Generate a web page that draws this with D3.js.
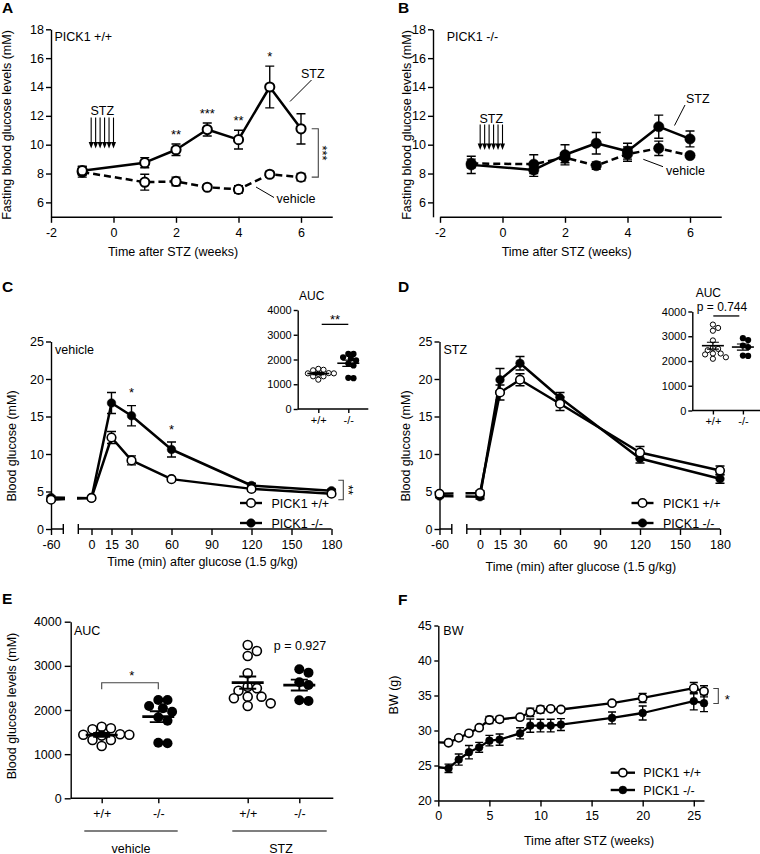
<!DOCTYPE html>
<html><head><meta charset="utf-8">
<script src="https://cdn.jsdelivr.net/npm/d3@7/dist/d3.min.js"></script>
<style>
body{margin:0;background:#fff;}
svg{display:block;}
</style></head><body>
<svg id="fig" width="760" height="854"></svg>
<script>
// ================= DATA =================
// A & B: fasting blood glucose (mM) vs weeks after STZ
const weeks = [-1, 1, 2, 3, 4, 5, 6];
const stzDays = [-5, -4, -3, -2, -1, 0];
const aStz = [8.2, 8.75, 9.65, 11.05, 10.35, 14.0, 11.1];
const aStzSem = [0.3, 0.35, 0.4, 0.45, 0.65, 1.45, 1.05];
const aVeh = [8.1, 7.4, 7.45, 7.05, 6.9, 7.95, 7.75];
const aVehSem = [0.35, 0.55, 0.3, 0.15, 0.25, 0.2, 0.25];
const aStars = ["", "", "**", "***", "**", "*", ""];
const bStz = [8.6, 8.25, 9.3, 10.1, 9.55, 11.25, 10.4];
const bStzSem = [0.6, 0.45, 0.7, 0.75, 0.55, 0.8, 0.55];
const bVeh = [8.7, 8.65, 9.1, 8.55, 9.35, 9.75, 9.25];
const bVehSem = [0.3, 0.65, 0.35, 0.25, 0.5, 0.5, 0.15];
const abYTicks = [6, 8, 10, 12, 14, 16, 18];
const abXTicks = [-2, 0, 2, 4, 6];

// C & D: glucose tolerance test (mM)
const ogttMin = [-60, 0, 15, 30, 60, 120, 180];
const cWT = [3.9, 4.15, 12.2, 9.15, 6.65, 5.35, 4.7];
const cWTSem = [0.2, 0.2, 0.8, 0.6, 0.25, 0.3, 0.25];
const cKO = [4.2, 4.1, 16.8, 15.1, 10.6, 5.8, 5.1];
const cKOSem = [0.2, 0.2, 1.4, 1.35, 1.0, 0.3, 0.2];
const cStars = ["", "", "", "*", "*", "", ""];
const dWT = [4.7, 4.8, 18.2, 19.9, 16.7, 10.2, 7.8];
const dWTSem = [0.2, 0.3, 1.0, 0.8, 0.9, 0.8, 0.6];
const dKO = [4.4, 4.3, 19.9, 22.1, 17.5, 9.4, 6.7];
const dKOSem = [0.2, 0.3, 1.5, 0.9, 0.7, 0.6, 0.6];
const cdXTicks = [-60, 0, 15, 30, 60, 90, 120, 150, 180];
const cdYTicks = [0, 5, 10, 15, 20, 25];

// E and insets: AUC per mouse
const aucVehWT = [1622, 1563, 1585, 1450, 1440, 1440, 1420, 1320, 1320, 1185];
const aucVehKO = [2090, 2227, 2227, 1835, 1962, 2038, 1758, 1246, 1259];
const aucStzWT = [3472, 3223, 3336, 2831, 2491, 2437, 2528, 2302, 2265, 2302, 2090, 2151];
const aucStzKO = [2846, 2921, 2566, 2627, 2204, 2219];
const aucTicks = [0, 1000, 2000, 3000, 4000];
const genotypes = ["+/+", "-/-"];
const treatments = ["vehicle", "STZ"];

// F: body weight (g)
const bwWeeks = [0, 1, 2, 3, 4, 5, 6, 8, 9, 10, 11, 12, 17, 20, 25, 26];
const bwWT = [28.3, 28.25, 28.95, 29.6, 30.4, 31.5, 31.6, 31.9, 32.6, 33.0, 33.1, 33.0, 33.9, 34.65, 36.05, 35.6];
const bwWTSem = [0, 0.15, 0.2, 0.25, 0.25, 0.5, 0.4, 0.3, 0.6, 0.5, 0.3, 0.3, 0.3, 0.65, 0.8, 0.8];
const bwKO = [24.75, 24.6, 25.85, 26.9, 27.6, 28.55, 28.7, 29.6, 30.7, 30.7, 30.7, 30.85, 31.8, 32.5, 34.2, 33.9];
const bwKOSem = [0, 0.6, 0.8, 0.95, 0.7, 0.75, 0.8, 0.8, 0.95, 0.9, 0.9, 0.85, 0.85, 1.0, 1.25, 1.2];
const fXTicks = [0, 5, 10, 15, 20, 25];
const fYTicks = [20, 25, 30, 35, 40, 45];

// ================= HELPERS =================
const svg = d3.select("#fig");
const FONT = '"Liberation Sans", Arial, Helvetica, sans-serif';
const FS = 12.5;
svg.attr("font-family", FONT);
const fmt = d => String(d);

function T(g, x, y, s, o = {}) {
  const t = g.append("text").attr("x", x).attr("y", y).text(s)
    .attr("font-size", o.fs || FS).attr("text-anchor", o.anchor || "start").attr("fill", "#000");
  if (o.bold) t.attr("font-weight", "bold");
  if (o.rot != null) t.attr("transform", `rotate(${o.rot},${x},${y})`);
  return t;
}
function P(g, d, w = 1, col = "#000") {
  return g.append("path").attr("d", d).attr("fill", "none").attr("stroke", col).attr("stroke-width", w);
}
function styleAxis(ax, fs) {
  ax.attr("font-family", FONT).attr("font-size", fs);
  ax.select(".domain").attr("stroke-width", 1.4);
  ax.selectAll(".tick line").attr("stroke-width", 1.4);
  return ax;
}
function drawSeries(g, x, y, ts, vals, sems, o) {
  const data = ts.map((t, i) => ({ t, v: vals[i], e: sems[i] }));
  const line = d3.line().x(d => x(d.t)).y(d => y(d.v));
  const lp = g.append("path").datum(data).attr("d", line).attr("fill", "none")
    .attr("stroke", "#000").attr("stroke-width", o.lw).attr("stroke-linejoin", "round");
  if (o.dash) lp.attr("stroke-dasharray", o.dash);
  if (o.clip) lp.attr("clip-path", `url(#${o.clip})`);
  const c = o.cap || 4.5;
  g.append("g").selectAll("path").data(data.filter(d => d.e > 0)).join("path")
    .attr("d", d => { const X = x(d.t), a = y(d.v + d.e), b = y(d.v - d.e);
      return `M${X},${a}V${b}M${X - c},${a}H${X + c}M${X - c},${b}H${X + c}`; })
    .attr("fill", "none").attr("stroke", "#000").attr("stroke-width", o.ew || 1.4);
  g.append("g").selectAll("circle").data(o.mf ? data.filter(o.mf) : data).join("circle")
    .attr("cx", d => x(d.t)).attr("cy", d => y(d.v)).attr("r", o.r)
    .attr("fill", o.filled ? "#000" : "#fff").attr("stroke", "#000")
    .attr("stroke-width", o.filled ? 0.5 : o.msw);
}
function legendItem(g, x0, x1, y, filled, label, tx, r) {
  P(g, `M${x0},${y}H${x1}`, 2.4);
  g.append("circle").attr("cx", (x0 + x1) / 2).attr("cy", y).attr("r", r)
    .attr("fill", filled ? "#000" : "#fff").attr("stroke", "#000").attr("stroke-width", filled ? 0.5 : 1.6);
  T(g, tx, y + 4.5, label);
}
function swarm(vals, y, cx, minD, step) {
  const order = vals.map((v, i) => i).sort((a, b) => vals[b] - vals[a]);
  const placed = [], out = new Array(vals.length);
  for (const i of order) {
    const py = y(vals[i]);
    for (let k = 0; k < 60; k++) {
      const off = (k === 0 ? 0 : (k % 2 ? 1 : -1) * Math.ceil(k / 2)) * step;
      const px = cx + off;
      if (placed.every(p => (p.x - px) ** 2 + (p.y - py) ** 2 >= minD * minD)) {
        placed.push({ x: px, y: py }); out[i] = { x: px, y: py, v: vals[i] }; break;
      }
    }
  }
  return out;
}
function meanSem(g, vals, y, cx, mw, cw, lw) {
  const m = d3.mean(vals), s = d3.deviation(vals) / Math.sqrt(vals.length);
  P(g, `M${cx - mw},${y(m)}H${cx + mw}`, lw);
  P(g, `M${cx},${y(m + s)}V${y(m - s)}M${cx - cw},${y(m + s)}H${cx + cw}M${cx - cw},${y(m - s)}H${cx + cw}`, lw * 0.75);
}

// ================= PANELS A & B =================
function panelAB(o) {
  const g = svg.append("g");
  const x = d3.scaleLinear().domain([-2, 7]).range([o.xs, o.xs + 281.25]);
  const y = d3.scaleLinear().domain([5, 18]).range([216.8, 29.3]);
  styleAxis(g.append("g").attr("transform", `translate(${o.ax},0)`)
    .call(d3.axisLeft(y).tickValues(abYTicks).tickFormat(fmt).tickSize(5).tickPadding(2).tickSizeOuter(0)), FS);
  styleAxis(g.append("g").attr("transform", `translate(0,${y(5)})`)
    .call(d3.axisBottom(x).tickValues(abXTicks).tickFormat(fmt).tickSize(6).tickPadding(5).tickSizeOuter(0)), FS);
  T(g, o.ylx, 125, "Fasting blood glucose levels (mM)", { anchor: "middle", rot: -90 });
  T(g, o.xlx, 256, "Time after STZ (weeks)", { anchor: "middle" });
  T(g, o.px, 13, o.letter, { bold: true, fs: 15.5 });
  T(g, o.gtx, 41, o.genotype);
  const xd = d => x(d / 7);
  T(g, xd(d3.mean(stzDays)), o.arrTxt, "STZ", { anchor: "middle" });
  g.append("g").selectAll("path").data(stzDays).join("path")
    .attr("d", d => `M${xd(d)},${y(o.arrTop)}V${y(o.arrTip) - 5}`)
    .attr("stroke", "#000").attr("stroke-width", 1.1);
  g.append("g").selectAll("path").data(stzDays).join("path")
    .attr("d", d => `M${xd(d) - 2.5},${y(o.arrTip) - 6.5}H${xd(d) + 2.5}L${xd(d)},${y(o.arrTip)}Z`)
    .attr("fill", "#000");
  drawSeries(g, x, y, weeks, o.veh, o.vehSem, { lw: 2.5, dash: "7,4", r: o.r, filled: o.filled, msw: 2, cap: 4.5 });
  drawSeries(g, x, y, weeks, o.stz, o.stzSem, { lw: 2.5, r: o.r, filled: o.filled, msw: 2, cap: 4.5 });
  T(g, o.stzLab[0], o.stzLab[1], "STZ");
  P(g, o.stzLead, 1);
  T(g, o.vehLab[0], o.vehLab[1], "vehicle");
  P(g, o.vehLead, 1);
  return { g, x, y };
}
const pA = panelAB({ letter: "A", px: 2, ax: 51, xs: 51, ylx: 11, xlx: 173, gtx: 54.5, genotype: "PICK1 +/+",
  arrTxt: 115, arrTop: 11.88, arrTip: 9.74, r: 4.6, filled: false,
  stz: aStz, stzSem: aStzSem, veh: aVeh, vehSem: aVehSem,
  stzLab: [301, 77.5], stzLead: "M311.5,80L290,101.5", vehLab: [276.5, 203], vehLead: "M256,187L274,197.5" });
pA.g.append("g").selectAll("text")
  .data(weeks.map((t, i) => ({ t, s: aStars[i], top: aStz[i] + aStzSem[i] })).filter(d => d.s))
  .join("text").attr("x", d => pA.x(d.t)).attr("y", d => pA.y(d.top) - 5)
  .attr("text-anchor", "middle").attr("font-size", 13).text(d => d.s);
P(pA.g, `M311.7,${pA.y(aStz[6])}H318.3V${pA.y(aVeh[6])}H311.7`, 1.1, "#444");
T(pA.g, 318, (pA.y(aStz[6]) + pA.y(aVeh[6])) / 2, "***", { anchor: "middle", rot: 90, fs: 13 });

panelAB({ letter: "B", px: 398, ax: 433, xs: 440, ylx: 411, xlx: 566.7, gtx: 446.7, genotype: "PICK1 -/-",
  arrTxt: 122.5, arrTop: 11.4, arrTip: 9.64, r: 5.2, filled: true,
  stz: bStz, stzSem: bStzSem, veh: bVeh, vehSem: bVehSem,
  stzLab: [686, 102.5], stzLead: "M685,105L674.5,125.5", vehLab: [666, 174.5], vehLead: "M643.3,159.3L663,166.7" });

// ================= PANELS C & D =================
function panelOGTT(o) {
  const g = svg.append("g");
  const a = o.ax;
  const x = d3.scaleLinear().domain([-60, 0, 180]).range([a, a + 40.5, a + 280.5]);
  const y = d3.scaleLinear().domain([0, 25]).range([529, 341.5]);
  styleAxis(g.append("g").attr("transform", `translate(${a},0)`)
    .call(d3.axisLeft(y).tickValues(cdYTicks).tickFormat(fmt).tickSize(5).tickPadding(2).tickSizeOuter(0)), FS);
  const xa = g.append("g").attr("transform", "translate(0,529)")
    .call(d3.axisBottom(x).tickValues(cdXTicks).tickFormat(fmt).tickSize(6).tickPadding(5).tickSizeOuter(0));
  styleAxis(xa, FS);
  xa.select(".domain").remove();
  const b0 = a + 12.3, b1 = a + 27.3;
  P(g, `M${a},529H${b0}M${b0},524V534M${b1},524V534M${b1},529H${x(180)}`, 1.4);
  const cid = "gap" + o.letter;
  const cp = g.append("clipPath").attr("id", cid);
  cp.append("rect").attr("x", 0).attr("y", 0).attr("width", a + 14).attr("height", 854);
  cp.append("rect").attr("x", a + 26).attr("y", 0).attr("width", 760).attr("height", 854);
  drawSeries(g, x, y, ogttMin, o.ko, o.koSem, { lw: 2.5, r: 4.3, filled: true, clip: cid, cap: 4.5 });
  drawSeries(g, x, y, ogttMin, o.wt, o.wtSem, { lw: 2.5, r: 4.3, msw: 1.6, clip: cid, cap: 4.5 });
  T(g, o.ylx, 446, "Blood glucose (mM)", { anchor: "middle", rot: -90 });
  T(g, o.xlx, o.xly, "Time (min) after glucose (1.5 g/kg)", { anchor: "middle" });
  T(g, o.px, 292, o.letter, { bold: true, fs: 15.5 });
  T(g, a + 4, 353.5, o.cond);
  legendItem(g, o.lg, o.lg + 22, 503, false, "PICK1 +/+", o.lg + 31.5, 4.3);
  legendItem(g, o.lg, o.lg + 22, 523, true, "PICK1 -/-", o.lg + 31.5, 4.3);
  return { g, x, y };
}
const pC = panelOGTT({ letter: "C", px: 2, ax: 51, ylx: 16, xlx: 202.5, xly: 565.5, cond: "vehicle", lg: 240,
  wt: cWT, wtSem: cWTSem, ko: cKO, koSem: cKOSem });
pC.g.append("g").selectAll("text")
  .data(ogttMin.map((t, i) => ({ t, s: cStars[i], top: Math.max(cKO[i] + cKOSem[i], cWT[i] + cWTSem[i]) })).filter(d => d.s))
  .join("text").attr("x", d => pC.x(d.t)).attr("y", d => pC.y(d.top) - 8.5)
  .attr("text-anchor", "middle").attr("font-size", 13).text(d => d.s);
P(pC.g, `M338.3,${pC.y(6.5)}H343.3V${pC.y(3.9)}H338.3`, 1.1, "#444");
T(pC.g, 344, (pC.y(6.5) + pC.y(3.9)) / 2, "**", { anchor: "middle", rot: 90, fs: 13 });

panelOGTT({ letter: "D", px: 398, ax: 439.5, ylx: 409.5, xlx: 580.8, xly: 571, cond: "STZ", lg: 631.5,
  wt: dWT, wtSem: dWTSem, ko: dKO, koSem: dKOSem });

// ================= INSETS =================
function inset(o) {
  const g = svg.append("g");
  const y = d3.scaleLinear().domain([0, 4000]).range([o.y0, o.y0 - 99]);
  const x = d3.scaleOrdinal().domain(genotypes).range([o.ax + 20.6, o.ax + 50.6]);
  styleAxis(g.append("g").attr("transform", `translate(${o.ax},0)`)
    .call(d3.axisLeft(y).tickValues(aucTicks).tickFormat(fmt).tickSize(4).tickPadding(2).tickSizeOuter(0)), 11);
  const xa = g.append("g").attr("transform", `translate(0,${o.y0})`)
    .call(d3.axisBottom(x).tickValues(genotypes).tickSize(4).tickPadding(3).tickSizeOuter(0));
  styleAxis(xa, 11);
  xa.select(".domain").remove();
  P(g, `M${o.ax},${o.y0}H${o.ax + 70.6}`, 1.4);
  [o.wt, o.ko].forEach((vals, k) => {
    const cx = x(genotypes[k]);
    const pts = swarm(vals, y, cx, 4.8, 2.6);
    g.append("g").selectAll("circle").data(pts).join("circle")
      .attr("cx", d => d.x).attr("cy", d => d.y).attr("r", k ? 3.1 : 2.6)
      .attr("fill", k ? "#000" : "#fff").attr("stroke", "#000").attr("stroke-width", k ? 0 : 1);
    meanSem(g, vals, y, cx, 11, 6, 1.6);
  });
  T(g, o.aucX, o.aucY, "AUC", { anchor: "middle", fs: 12 });
  return { g, x, y };
}
const iC = inset({ ax: 297.7, y0: 409, wt: aucVehWT, ko: aucVehKO, aucX: 311.7, aucY: 300 });
P(iC.g, `M321.7,${iC.y(3420)}H${iC.x("-/-")}`, 1.3);
T(iC.g, 335, 323.5, "**", { anchor: "middle", fs: 13 });
const iD = inset({ ax: 692.3, y0: 410.5, wt: aucStzWT, ko: aucStzKO, aucX: 708.3, aucY: 296.5 });
P(iD.g, `M713.3,${iD.y(3820)}H739.3`, 1.3);
T(iD.g, 722, 310.5, "p = 0.744", { anchor: "middle", fs: 12 });

// ================= PANEL E =================
{
  const g = svg.append("g");
  const y = d3.scaleLinear().domain([0, 4000]).range([798.3, 621.7]);
  const keys = [];
  treatments.forEach(tr => genotypes.forEach(gt => keys.push(tr + " " + gt)));
  const x = d3.scaleOrdinal().domain(keys).range([101.7, 158.3, 247.7, 299.3]);
  styleAxis(g.append("g").attr("transform", "translate(70.7,0)")
    .call(d3.axisLeft(y).tickValues(aucTicks).tickFormat(fmt).tickSize(6).tickPadding(3).tickSizeOuter(0)), FS);
  const xa = g.append("g").attr("transform", "translate(0,798.3)")
    .call(d3.axisBottom(x).tickValues(keys).tickFormat(k => k.split(" ")[1]).tickSize(5).tickPadding(6).tickSizeOuter(0));
  styleAxis(xa, FS);
  xa.select(".domain").remove();
  P(g, "M70.7,798.3H333.3", 1.4);
  const groups = [aucVehWT, aucVehKO, aucStzWT, aucStzKO];
  groups.forEach((vals, k) => {
    const filled = k % 2 === 1;
    const cx = x(keys[k]);
    const pts = swarm(vals, y, cx, 8.6, 4.6);
    g.append("g").selectAll("circle").data(pts).join("circle")
      .attr("cx", d => d.x).attr("cy", d => d.y).attr("r", filled ? 5 : 4.5)
      .attr("fill", filled ? "#000" : "#fff").attr("stroke", "#000").attr("stroke-width", filled ? 0 : 1.6);
    meanSem(g, vals, y, cx, 16, 8.5, 2.6);
  });
  P(g, "M84.3,831H177.7M232.3,831H326.7", 1.2);
  T(g, 131, 852.5, "vehicle", { anchor: "middle" });
  T(g, 281, 852.5, "STZ", { anchor: "middle" });
  P(g, `M${x(keys[0])},${y(2470)}V${y(2618)}H${x(keys[1])}V${y(2470)}`, 1.1, "#444");
  T(g, 131.7, 680, "*", { anchor: "middle", fs: 13 });
  T(g, 300, 650, "p = 0.927", { anchor: "middle" });
  T(g, 74, 635, "AUC");
  T(g, 16, 706, "Blood glucose levels (mM)", { anchor: "middle", rot: -90 });
  T(g, 2, 604, "E", { bold: true, fs: 15.5 });
}

// ================= PANEL F =================
{
  const g = svg.append("g");
  const x = d3.scaleLinear().domain([0, 26]).range([438.3, 704]);
  const y = d3.scaleLinear().domain([20, 45]).range([800.5, 625.5]);
  styleAxis(g.append("g").attr("transform", "translate(438.3,0)")
    .call(d3.axisLeft(y).tickValues(fYTicks).tickFormat(fmt).tickSize(4).tickPadding(2.5).tickSizeOuter(0)), FS);
  styleAxis(g.append("g").attr("transform", "translate(0,800.5)")
    .call(d3.axisBottom(x).tickValues(fXTicks).tickFormat(fmt).tickSize(6).tickPadding(5).tickSizeOuter(0)), FS);
  drawSeries(g, x, y, bwWeeks, bwKO, bwKOSem, { lw: 2.3, r: 3.9, filled: true, cap: 4, mf: d => d.t > 0 });
  drawSeries(g, x, y, bwWeeks, bwWT, bwWTSem, { lw: 2.3, r: 4.1, msw: 1.6, cap: 4, mf: d => d.t > 0 });
  P(g, `M713.3,${y(36.0)}H718.3V${y(33.85)}H713.3`, 1.1, "#444");
  T(g, 727.3, 703.5, "*", { anchor: "middle", fs: 13 });
  legendItem(g, 610.7, 635, 772.7, false, "PICK1 +/+", 643.3, 4.1);
  legendItem(g, 610.7, 635, 790, true, "PICK1 -/-", 643.3, 3.9);
  T(g, 443.3, 635, "BW");
  T(g, 398, 695, "BW (g)", { anchor: "middle", rot: -90 });
  T(g, 589, 844.5, "Time after STZ (weeks)", { anchor: "middle" });
  T(g, 398, 605, "F", { bold: true, fs: 15.5 });
}
</script>
</body></html>
